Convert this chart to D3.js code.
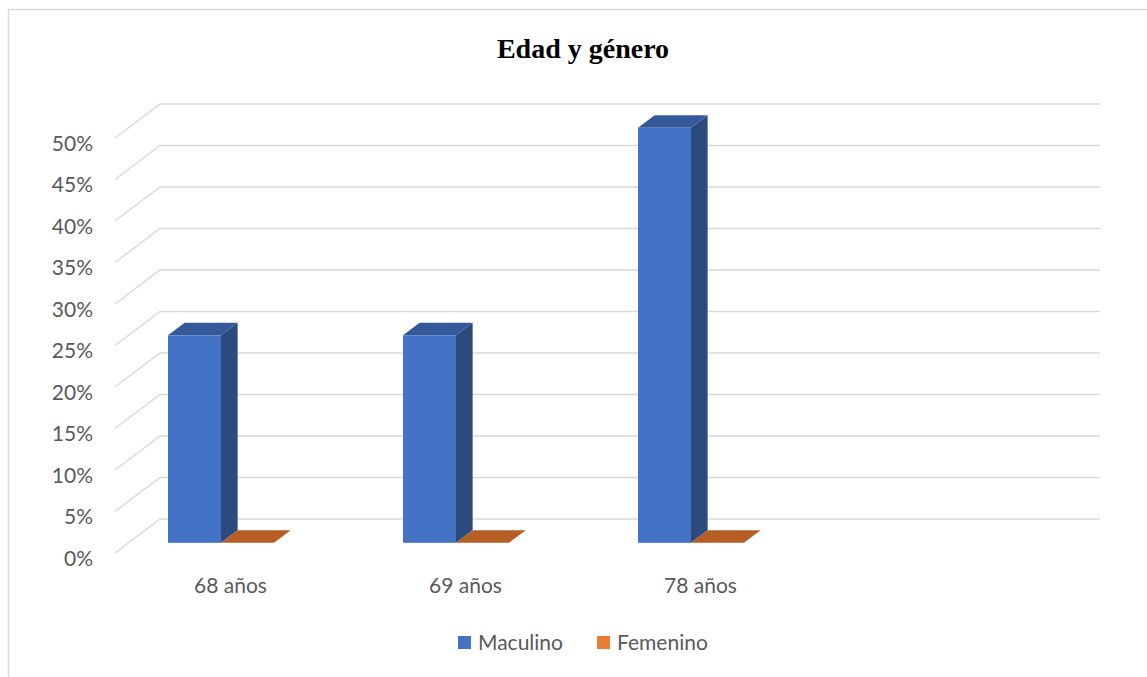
<!DOCTYPE html>
<html>
<head>
<meta charset="utf-8">
<script src="https://cdn.jsdelivr.net/npm/d3@7"></script>
<style>
  html, body { margin: 0; padding: 0; background: #fff; }
  svg { display: block; }
</style>
</head>
<body>
<svg id="chart" width="1147" height="677"></svg>
<script>
// ---- data ----
const categories = ["68 años", "69 años", "78 años", ""];
const seriesNames = ["Maculino", "Femenino"];
const maculino = [0.25, 0.25, 0.50, null];
const femenino = [0, 0, 0, null];
const yTicks = [0, 0.05, 0.10, 0.15, 0.20, 0.25, 0.30, 0.35, 0.40, 0.45, 0.50];
const title = "Edad y género";

// ---- styles ----
const colors = {
  Maculino: { front: "#4472C4", side: "#2C4A7E", top: "#34599A", legend: "#4472C4" },
  Femenino: { front: "#ED7D31", side: "#9A5020", top: "#B65E23", legend: "#ED7D31" }
};
const gridColor = "#D9D9D9";
const textColor = "#595959";
const font = "Lato, 'Liberation Sans', sans-serif";
const fontSize = 21;

const svg = d3.select("#chart");

// frame
svg.append("rect").attr("x", 8.5).attr("y", 9.5).attr("width", 1200).attr("height", 700)
  .attr("fill", "none").attr("stroke", gridColor).attr("stroke-width", 1.5);

// title
svg.append("text").attr("x", 583).attr("y", 58).attr("text-anchor", "middle")
  .attr("font-family", "'Liberation Serif', 'Times New Roman', serif")
  .attr("font-weight", "bold").attr("font-size", 28).attr("fill", "#000").text(title);

// geometry
const x0 = 115, plotW = 940;
const depth = { dx: 45, dy: -34 };
const y = d3.scaleLinear().domain([0, 0.5]).range([553, 138]);
const xBand = d3.scaleBand().domain(categories).range([x0, x0 + plotW]).padding(0);
const xSeries = d3.scaleBand().domain(seriesNames).range([39.5, 145.5]).padding(0);
const d0 = 0.3, d1 = 0.67;

// gridlines
const grid = svg.append("g");
yTicks.forEach(t => {
  const yf = y(t);
  grid.append("polyline")
    .attr("points", [[x0, yf], [x0 + depth.dx, yf + depth.dy], [x0 + plotW + depth.dx, yf + depth.dy]].map(p => p.join(",")).join(" "))
    .attr("fill", "none").attr("stroke", gridColor).attr("stroke-width", 1.5);
});

// y axis labels
svg.append("g").selectAll("text").data(yTicks).join("text")
  .attr("x", 93).attr("y", d => y(d) + 4)
  .attr("text-anchor", "end").attr("dominant-baseline", "central")
  .attr("font-family", font).attr("font-size", fontSize).attr("fill", textColor)
  .text(d => d3.format(".0%")(d));

// bars
const bars = svg.append("g");
const seriesData = { Maculino: maculino, Femenino: femenino };
categories.forEach((c, i) => {
  seriesNames.forEach(s => {
    const v = seriesData[s][i];
    if (v === null || v === undefined) return;
    const xl = xBand(c) + xSeries(s);
    const xr = xl + xSeries.bandwidth();
    const fx = depth.dx * d0, fy = depth.dy * d0;
    const bx = depth.dx * d1, by = depth.dy * d1;
    const yb = y(0), yt = y(v);
    const P = (x, yy) => [x, yy].join(",");
    bars.append("polygon")
      .attr("points", [P(xr + fx, yb + fy), P(xr + bx, yb + by), P(xr + bx, yt + by), P(xr + fx, yt + fy)].join(" "))
      .attr("fill", colors[s].side);
    bars.append("polygon")
      .attr("points", [P(xl + fx, yt + fy), P(xr + fx, yt + fy), P(xr + bx, yt + by), P(xl + bx, yt + by)].join(" "))
      .attr("fill", colors[s].top);
    if (yb - yt > 0) {
      bars.append("rect")
        .attr("x", xl + fx).attr("y", yt + fy).attr("width", xr - xl).attr("height", yb - yt)
        .attr("fill", colors[s].front);
    }
  });
});

// category labels
svg.append("g").selectAll("text").data(categories).join("text")
  .attr("x", d => xBand(d) + xBand.bandwidth() / 2 - 2).attr("y", 593)
  .attr("text-anchor", "middle")
  .attr("font-family", font).attr("font-size", fontSize).attr("fill", textColor)
  .text(d => d);

// legend
const legendX = [458, 597];
const legend = svg.append("g");
seriesNames.forEach((s, i) => {
  legend.append("rect").attr("x", legendX[i]).attr("y", 636).attr("width", 13).attr("height", 13)
    .attr("fill", colors[s].legend);
  legend.append("text").attr("x", legendX[i] + 20).attr("y", 650)
    .attr("font-family", font).attr("font-size", fontSize).attr("fill", textColor).text(s);
});
</script>
</body>
</html>
